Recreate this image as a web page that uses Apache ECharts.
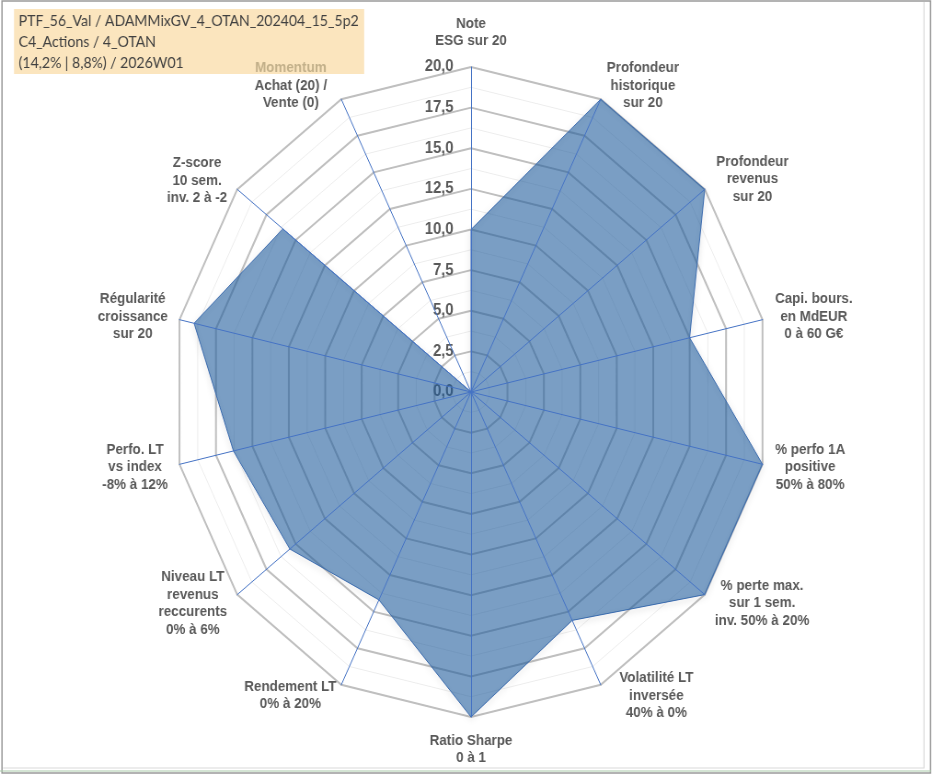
<!DOCTYPE html>
<html lang="fr">
<head>
<meta charset="UTF-8" />
<title>Radar PTF_56_Val</title>
<script src="https://cdn.jsdelivr.net/npm/echarts@6/dist/echarts.min.js"></script>
<style>
  html, body { margin: 0; padding: 0; background: #fff; }
  #cadre { width: 932px; height: 776px; overflow: hidden; }
  /* l'image d'origine est tassée horizontalement (~92 %) */
  #main { width: 1013px; height: 776px; transform: scaleX(0.92); transform-origin: 0 0; }
</style>
</head>
<body>
<div id="cadre"><div id="main"></div></div>
<script>
// critères dans l'ordre Excel, sens horaire depuis le haut
const criteres = [
  'Note\nESG sur 20',
  'Profondeur\nhistorique\nsur 20',
  'Profondeur\nrevenus\nsur 20',
  'Capi. bours.\nen MdEUR\n0 à 60 G€',
  '% perfo 1A\npositive\n50% à 80%',
  '% perte max.\nsur 1 sem.\ninv. 50% à 20%',
  'Volatilité LT\ninversée\n40% à 0%',
  'Ratio Sharpe\n0 à 1',
  'Rendement LT\n0% à 20%',
  'Niveau LT\nrevenus\nreccurents\n0% à 6%',
  'Perfo. LT\nvs index\n-8% à 12%',
  'Régularité\ncroissance\nsur 20',
  'Z-score\n10 sem.\ninv. 2 à -2',
  'Momentum\nAchat (20) /\nVente (0)'
]
// notes sur 20
const notes = [10, 20, 20, 15, 20, 20, 15.6, 20, 14.2, 15.5, 16.3, 19, 16.1, 0]
// graduations de l'axe
const graduations = [0, 2.5, 5, 7.5, 10, 12.5, 15, 17.5, 20]
const titre = [
  'PTF_56_Val / ADAMMixGV_4_OTAN_202404_15_5p2',
  'C4_Actions / 4_OTAN',
  '(14,2% | 8,8%) / 2026W01'
]

// mise en page des libellés (écart à la pointe, décalage éventuel)
const ecarts = [17, 15, 16, 14, 14, 14, 12, 15, 12, 14, 13, 13, 14, 15]
const decalages = { 6: [0, 0, 0, 15], 13: [0, 9, 0, 0] }

const sx = 0.92
const gMax = graduations[graduations.length - 1]
// ECharts tourne dans le sens trigo : on inverse l'ordre après le premier axe
const ordre = [0].concat(criteres.map((c, i) => i).slice(1).reverse())

const police = '"Liberation Sans", Arial, sans-serif'
const gris = '#595959'
const taille = 14.6

function indicateurs(avecNoms) {
  return ordre.map(i => {
    const ind = { name: avecNoms ? criteres[i] : '', min: 0, max: gMax }
    if (avecNoms) {
      ind.nameGap = ecarts[i]
      ind.axisLabel = { show: i === 0 }
      if (decalages[i]) ind.nameTextStyle = { padding: decalages[i] }
    }
    return ind
  })
}

const centre = [471 / sx, 392]
const rayon = 325

const myChart = echarts.init(document.getElementById('main'))

const options = {
  animation: false,
  title: {
    text: titre.join('\n'),
    left: 14 / sx,
    top: 9,
    z: 0,
    backgroundColor: '#FBE5BE',
    padding: [2, 6, 0, 5],
    textStyle: {
      fontFamily: 'Lato, "Open Sans", sans-serif',
      fontSize: 15.3,
      fontWeight: 'normal',
      color: '#404040',
      lineHeight: 21,
      width: 367
    }
  },
  graphic: [
    {
      type: 'rect',
      z: 100,
      shape: { x: 2 / sx, y: 1, width: 928.5 / sx, height: 772 },
      style: { fill: 'none', stroke: '#9a9a9a', lineWidth: 1.5 }
    },
    {
      type: 'polyline',
      z: 100,
      shape: { points: [[924 / sx, 2], [924 / sx, 768], [3 / sx, 768]] },
      style: { fill: 'none', stroke: '#d9d9d9', lineWidth: 1.2 }
    },
    {
      type: 'line',
      z: 100,
      shape: { x1: 0, y1: 771, x2: 931 / sx, y2: 771 },
      style: { stroke: '#aacbaa', lineWidth: 1 }
    }
  ],
  radar: [
    {
      // grille principale + noms + graduations
      center: centre,
      radius: rayon,
      startAngle: 90,
      shape: 'polygon',
      splitNumber: 8,
      z: 1,
      indicator: indicateurs(true),
      axisName: {
        color: gris,
        fontFamily: police,
        fontWeight: 'bold',
        fontSize: taille,
        formatter: function (name) {
          return name.split('\n').map(l => (l === 'Momentum' ? '{m|' : '{c|') + l + '}').join('\n')
        },
        rich: {
          c: { align: 'center', color: gris, fontFamily: police, fontWeight: 'bold', fontSize: taille, lineHeight: 17.5 },
          m: { align: 'center', color: '#C2B08A', fontFamily: police, fontWeight: 'bold', fontSize: taille, lineHeight: 17.5 }
        }
      },
      axisLabel: {
        show: false,
        color: gris,
        fontFamily: police,
        fontWeight: 'bold',
        fontSize: 16,
        margin: 19,
        formatter: v => v.toFixed(1).replace('.', ',')
      },
      axisLine: { show: false },
      axisTick: { show: false },
      splitArea: { show: false },
      splitLine: { lineStyle: { color: '#BFBFBF', width: 2 } }
    },
    {
      // grille secondaire
      center: centre,
      radius: rayon,
      startAngle: 90,
      shape: 'polygon',
      splitNumber: 16,
      z: 0,
      indicator: indicateurs(false),
      axisName: { show: false },
      axisLine: { show: false },
      axisTick: { show: false },
      axisLabel: { show: false },
      splitArea: { show: false },
      splitLine: { lineStyle: { color: '#EDEDED', width: 1 } }
    },
    {
      // rayons bleus au-dessus de la surface
      center: centre,
      radius: rayon,
      startAngle: 90,
      shape: 'polygon',
      splitNumber: 8,
      z: 3,
      indicator: indicateurs(false),
      axisName: { show: false },
      axisLine: { show: true, lineStyle: { color: '#4472C4', width: 1 } },
      axisTick: { show: false },
      axisLabel: { show: false },
      splitArea: { show: false },
      splitLine: { show: false }
    }
  ],
  series: [
    {
      type: 'radar',
      radarIndex: 0,
      z: 2,
      symbol: 'none',
      lineStyle: {
        color: '#4A74B8',
        width: 1,
        shadowBlur: 6,
        shadowColor: 'rgba(0,0,0,0.35)',
        shadowOffsetY: 2
      },
      areaStyle: { color: 'rgb(33, 93, 157)', opacity: 0.6 },
      data: [{ value: ordre.map(i => notes[i]), name: 'PTF_56_Val' }]
    }
  ]
}

myChart.setOption(options)
</script>
</body>
</html>
